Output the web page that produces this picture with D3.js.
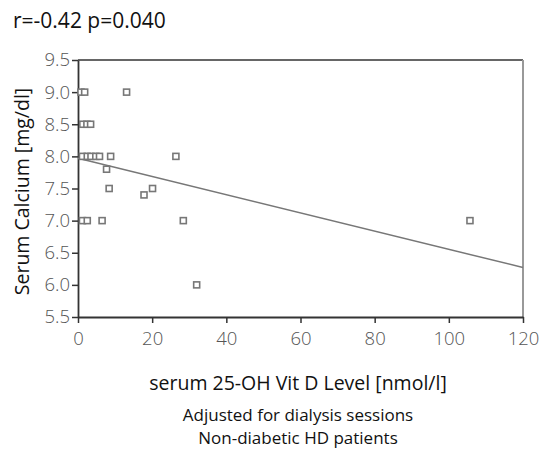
<!DOCTYPE html>
<html>
<head>
<meta charset="utf-8">
<script src="https://cdn.jsdelivr.net/npm/d3@7.9.0/dist/d3.min.js"></script>
<style>
  body { margin: 0; background: #fff; }
  svg text { font-family: "Open Sans", "Noto Sans", sans-serif; }
</style>
</head>
<body>
<svg id="chart" width="547" height="458"></svg>
<script>
// vitamin D (x) vs calcium (y)
const vitD = [0.8, 1.8, 13.1, 1.3, 2.4, 3.4, 1.2, 2.5, 3.5, 4.8, 5.8, 8.8, 26.4,
  7.7, 8.4, 17.8, 20.1, 1.2, 2.5, 6.5, 28.4, 105.7, 32.0];
const calcium = [9.0, 9.0, 9.0, 8.5, 8.5, 8.5, 8.0, 8.0, 8.0, 8.0, 8.0, 8.0, 8.0,
  7.8, 7.5, 7.4, 7.5, 7.0, 7.0, 7.0, 7.0, 7.0, 6.0];
// regression line end points
const fitX = [0, 120];
const fitY = [7.97, 6.27];

const xTicks = [0, 20, 40, 60, 80, 100, 120];
const yTicks = [5.5, 6.0, 6.5, 7.0, 7.5, 8.0, 8.5, 9.0, 9.5];

const svg = d3.select('#chart');
const plotL = 78, plotR = 523, plotT = 60, plotB = 317;

const x = d3.scaleLinear().domain([0, 120]).range([plotL, plotR]);
const y = d3.scaleLinear().domain([5.5, 9.5]).range([plotB, plotT]);

// frame (top + right)
svg.append('line').attr('x1', plotL).attr('x2', plotR).attr('y1', plotT).attr('y2', plotT)
  .attr('stroke', '#333').attr('stroke-width', 1.5);
svg.append('line').attr('x1', plotR).attr('x2', plotR).attr('y1', plotT).attr('y2', plotB)
  .attr('stroke', '#999').attr('stroke-width', 2);

const xAxis = svg.append('g').attr('transform', `translate(0,${plotB})`)
  .call(d3.axisBottom(x).tickValues(xTicks).tickSize(6).tickSizeOuter(0).tickFormat(d3.format('d')));
const yAxis = svg.append('g').attr('transform', `translate(${plotL},0)`)
  .call(d3.axisLeft(y).tickValues(yTicks).tickSize(6).tickSizeOuter(0).tickFormat(d3.format('.1f')));

[xAxis, yAxis].forEach(g => {
  g.select('.domain').attr('stroke', '#333').attr('stroke-width', 1.8);
  g.selectAll('.tick line').attr('stroke', '#333').attr('stroke-width', 1.5);
  g.selectAll('.tick text').attr('fill', '#555').style('font-size', '18.5px')
    .style('font-weight', 300);
});
xAxis.selectAll('.tick text').attr('dy', '1.0em');
yAxis.selectAll('.tick text').attr('x', -8);

// fit line
svg.append('line')
  .attr('x1', x(fitX[0])).attr('y1', y(fitY[0]))
  .attr('x2', x(fitX[1])).attr('y2', y(fitY[1]))
  .attr('stroke', '#777').attr('stroke-width', 1.5);

// points
svg.append('g').selectAll('rect')
  .data(vitD.map((v, i) => [v, calcium[i]]))
  .join('rect')
  .attr('x', d => x(d[0]) - 3)
  .attr('y', d => y(d[1]) - 3)
  .attr('width', 6).attr('height', 6)
  .attr('fill', '#fff').attr('stroke', '#777').attr('stroke-width', 1.6);

// texts
svg.append('text').attr('x', 13).attr('y', 28).text('r=-0.42 p=0.040')
  .style('font-size', '21px').attr('fill', '#111');

svg.append('text').attr('transform', `translate(29,${(plotT + plotB) / 2 + 3}) rotate(-90)`)
  .attr('text-anchor', 'middle').text('Serum Calcium [mg/dl]')
  .style('font-size', '19.5px').attr('fill', '#111');

svg.append('text').attr('x', 298).attr('y', 390).attr('text-anchor', 'middle')
  .text('serum 25-OH Vit D Level [nmol/l]').style('font-size', '19.5px').attr('fill', '#111');

svg.append('text').attr('x', 298).attr('y', 421).attr('text-anchor', 'middle')
  .text('Adjusted for dialysis sessions').style('font-size', '17px').attr('fill', '#111');
svg.append('text').attr('x', 298).attr('y', 444).attr('text-anchor', 'middle')
  .text('Non-diabetic HD patients').style('font-size', '17px').attr('fill', '#111');
</script>
</body>
</html>
